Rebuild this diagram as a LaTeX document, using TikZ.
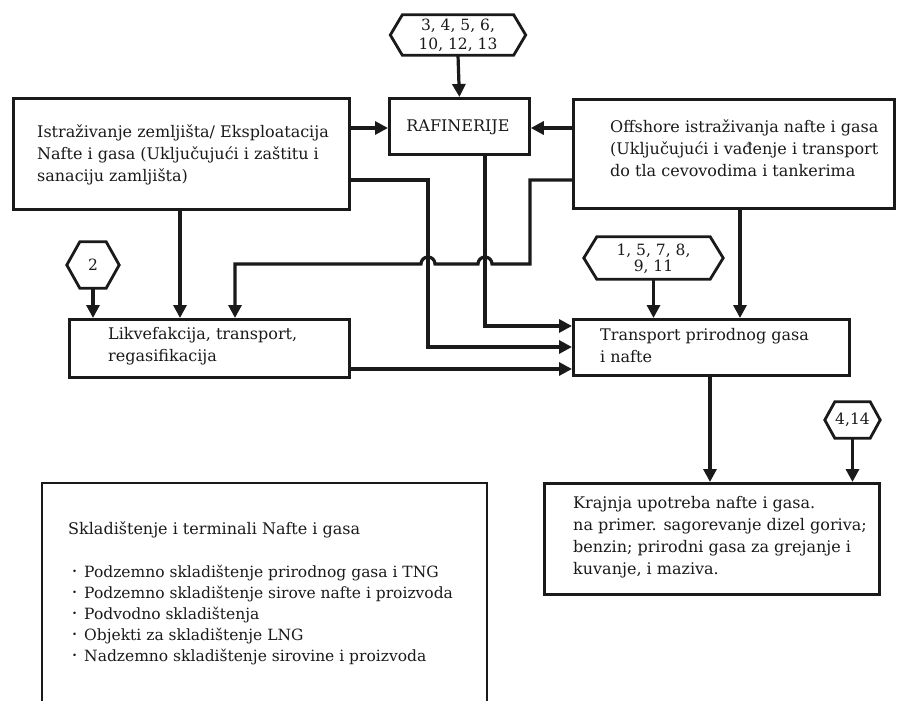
\documentclass[tikz,border=0pt]{standalone}
\usepackage{fontspec}
\setmainfont{DejaVu Serif}
\usetikzlibrary{arrows.meta}
\definecolor{ink}{HTML}{1A1A1A}
\tikzset{
  frame/.style={draw=ink, line width=2.8pt},
  boxnode/.style={frame, rectangle, inner sep=0pt, anchor=north west},
  txt/.style={text=ink, font=\fontsize{16}{22}\selectfont, align=left, inner sep=0pt, anchor=west},
  hexlabel/.style={text=ink, font=\fontsize{15.5}{19}\selectfont, align=center, inner sep=0pt},
  flow/.style={draw=ink, line width=3.2pt, -{Triangle[length=13pt,width=13pt]}},
}
% hexagon outline around a node: flat top and bottom, pointed sides
\newcommand\hexframe[2]{\draw[frame, line join=miter] (#1.north west) -- (#1.north east) -- ([xshift=#2]#1.east) -- (#1.south east) -- (#1.south west) -- ([xshift=-#2]#1.west) -- cycle;}
\newcommand\itemdot{\raisebox{3pt}{\scalebox{0.55}{\textbullet}}\hspace{7pt}}
\begin{document}
\begin{tikzpicture}[x=1pt, y=-1pt]
\useasboundingbox[fill=white] (0,0) rectangle (898,701);

% ---- boxes ----
\node[boxnode, minimum width=336, minimum height=111] (ex) at (12,97) {};
\node[txt] (exT) at (37,155) {Istraživanje zemljišta/ Eksploatacija\\Nafte i gasa (Uključujući i zaštitu i\\sanaciju zamljišta)};

\node[boxnode, minimum width=140, minimum height=56] (raf) at (388,97) {};
\node[txt, anchor=center] (rafT) at (458,127) {RAFINERIJE};

\node[boxnode, minimum width=321, minimum height=109] (off) at (572,98) {};
\node[txt] (offT) at (610,148.5) {Offshore istraživanja nafte i gasa\\(Uključujući i vađenje i transport\\do tla cevovodima i tankerima};

\node[boxnode, minimum width=280, minimum height=58] (lik) at (68,318) {};
\node[txt] (likT) at (108,346) {Likvefakcija, transport,\\regasifikacija};

\node[boxnode, minimum width=276, minimum height=56] (tr) at (572,318) {};
\node[txt] (trT) at (600,346) {Transport prirodnog gasa\\i nafte};

\node[boxnode, minimum width=335, minimum height=111] (kr) at (543,482) {};
\node[txt] (krT) at (573,537.5) {Krajnja upotreba nafte i gasa.\\na primer. sagorevanje dizel goriva;\\benzin; prirodni gasa za grejanje i\\kuvanje, i maziva.};

% storage box, open at the lower edge
\coordinate (skBL) at (42,701);
\coordinate (skTL) at (42,483);
\coordinate (skTR) at (487,483);
\coordinate (skBR) at (487,701);
\draw[frame, line join=miter] (skBL) -- (skTL) -- (skTR) -- (skBR);
\node[txt] (skT) at (68,530) {Skladištenje i terminali Nafte i gasa};
\node[txt, anchor=north west, font=\fontsize{15.5}{21}\selectfont] (skL) at (72,565) {%
\itemdot Podzemno skladištenje prirodnog gasa i TNG\\
\itemdot Podzemno skladištenje sirove nafte i proizvoda\\
\itemdot Podvodno skladištenja\\
\itemdot Objekti za skladištenje LNG\\
\itemdot Nadzemno skladištenje sirovine i proizvoda};

% ---- hexagonal reference tags ----
\node[minimum width=111, minimum height=40, inner sep=0pt] (h1) at (458,35) {};
\hexframe{h1}{12}
\node[hexlabel] (h1T) at (458,35) {3, 4, 5, 6,\\10, 12, 13};

\node[minimum width=26, minimum height=46, inner sep=0pt] (h2) at (93,265) {};
\hexframe{h2}{13}
\node[hexlabel] (h2T) at (93,265) {2};

\node[minimum width=113, minimum height=42, inner sep=0pt] (h3) at (653.5,258) {};
\hexframe{h3}{13}
\node[hexlabel, font=\fontsize{15.5}{16}\selectfont] (h3T) at (653.5,259) {1, 5, 7, 8,\\9, 11};

\node[minimum width=35, minimum height=36, inner sep=0pt] (h4) at (852.5,420) {};
\hexframe{h4}{10}
\node[hexlabel] (h4T) at (852.5,420) {4,14};

% ---- connectors ----
\draw[flow] (h1.south) -- (raf.north);
\draw[flow] (ex.east |- 0,128) -- (raf.west |- 0,128);
\draw[flow] (off.west |- 0,128) -- (raf.east |- 0,128);

% land exploration -> transport (passes under the crossing line)
\coordinate (exOut) at (ex.east |- 0,180);
\draw[flow] (exOut) -| (428,347) -- (tr.west |- 0,347);
% refineries -> transport
\draw[flow] (raf.south -| 485,0) -- (485,326) -- (tr.west |- 0,326);
% offshore -> liquefaction, hopping over both vertical lines
\coordinate (offOut) at (off.west |- 0,180);
\draw[flow] (offOut) -| (530,264) -- (492,264)
  arc[start angle=0, end angle=-180, radius=7] -- (435,264)
  arc[start angle=0, end angle=-180, radius=7] -- (235,264) -- (lik.north -| 235,0);

\draw[flow] (h2.south) -- (lik.north -| h2.south);
\draw[flow] (ex.south -| 180,0) -- (lik.north -| 180,0);
\draw[flow] (lik.east |- 0,369) -- (tr.west |- 0,369);

\draw[flow] (h3.south) -- (tr.north -| h3.south);
\draw[flow] (off.south -| 740,0) -- (tr.north -| 740,0);

\draw[flow] (tr.south -| 710,0) -- (kr.north -| 710,0);
\draw[flow] (h4.south) -- (kr.north -| h4.south);
\end{tikzpicture}
\end{document}
